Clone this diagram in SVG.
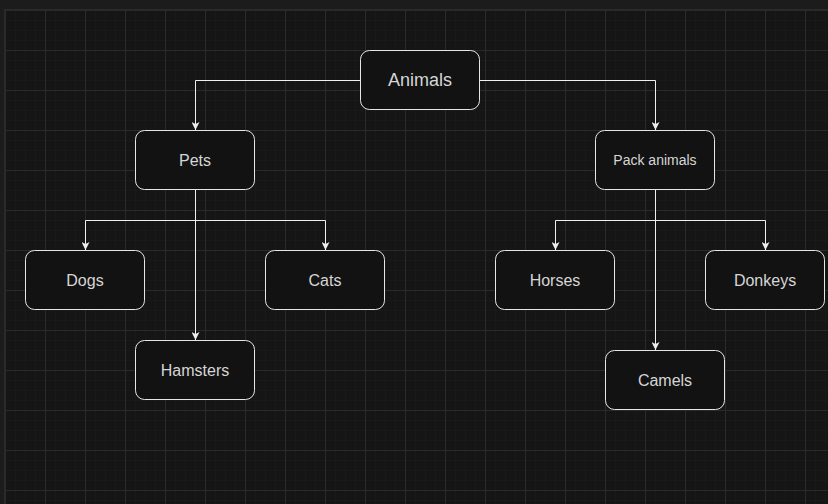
<svg xmlns="http://www.w3.org/2000/svg" width="828" height="504" viewBox="0 0 828 504">
<defs>
<pattern id="minor" x="5" y="10" width="10" height="10" patternUnits="userSpaceOnUse">
<path d="M0 0H10M0 0V10" fill="none" stroke="#1d1d1d" stroke-width="1"/>
</pattern>
<pattern id="major" x="5" y="10" width="40" height="40" patternUnits="userSpaceOnUse">
<path d="M0 0.5H40M0.5 0V40" fill="none" stroke="#2a2a2a" stroke-width="1"/>
</pattern>
<marker id="arr" viewBox="0 0 10 10" refX="10" refY="5" markerWidth="8" markerHeight="8" markerUnits="userSpaceOnUse" orient="auto">
<path d="M0 0L10 5L0 10L2.5 5Z" fill="#f0f0f0"/>
</marker>
<style>
.node rect{fill:#121212;stroke:#e6e6e6;stroke-width:1}
.node text{fill:#d6d6d6;font-family:"Liberation Sans",Arial,sans-serif;font-size:16px;text-anchor:middle;dominant-baseline:central}
#connectors path{fill:none;stroke:#f0f0f0;stroke-width:1}
</style>
</defs>
<rect width="828" height="504" fill="#1c1c1c"/>
<rect x="4" y="9" width="824" height="495" fill="#151515"/>
<rect x="4" y="9" width="824" height="495" fill="url(#minor)"/>
<rect x="4" y="9" width="824" height="495" fill="url(#major)"/>
<path d="M4.5 9V504M4 9.5H828" stroke="#2a2a2a" stroke-width="1"/>
<g id="connectors">
<path d="M360 80.5H195.5V130" marker-end="url(#arr)"/>
<path d="M480 80.5H655.5V130" marker-end="url(#arr)"/>
<path d="M195.5 190V220.5H85.5V250" marker-end="url(#arr)"/>
<path d="M195.5 220.5H325.5V250" marker-end="url(#arr)"/>
<path d="M195.5 190V340" marker-end="url(#arr)"/>
<path d="M655.5 190V220.5H555.5V250" marker-end="url(#arr)"/>
<path d="M655.5 220.5H765.5V250" marker-end="url(#arr)"/>
<path d="M655.5 190V350" marker-end="url(#arr)"/>
</g>
<g id="animals" class="node"><rect x="360.5" y="50.5" width="119" height="59" rx="9"/><text x="420" y="80" style="font-size:18px">Animals</text></g>
<g id="pets" class="node"><rect x="135.5" y="130.5" width="119" height="59" rx="9"/><text x="195" y="160">Pets</text></g>
<g id="pack" class="node"><rect x="595.5" y="130.5" width="119" height="59" rx="9"/><text x="655" y="160" style="font-size:14px">Pack animals</text></g>
<g id="dogs" class="node"><rect x="25.5" y="250.5" width="119" height="59" rx="9"/><text x="85" y="280">Dogs</text></g>
<g id="cats" class="node"><rect x="265.5" y="250.5" width="119" height="59" rx="9"/><text x="325" y="280">Cats</text></g>
<g id="hamsters" class="node"><rect x="135.5" y="340.5" width="119" height="59" rx="9"/><text x="195" y="370">Hamsters</text></g>
<g id="horses" class="node"><rect x="495.5" y="250.5" width="119" height="59" rx="9"/><text x="555" y="280">Horses</text></g>
<g id="donkeys" class="node"><rect x="705.5" y="250.5" width="119" height="59" rx="9"/><text x="765" y="280">Donkeys</text></g>
<g id="camels" class="node"><rect x="605.5" y="350.5" width="119" height="59" rx="9"/><text x="665" y="380">Camels</text></g>
</svg>
